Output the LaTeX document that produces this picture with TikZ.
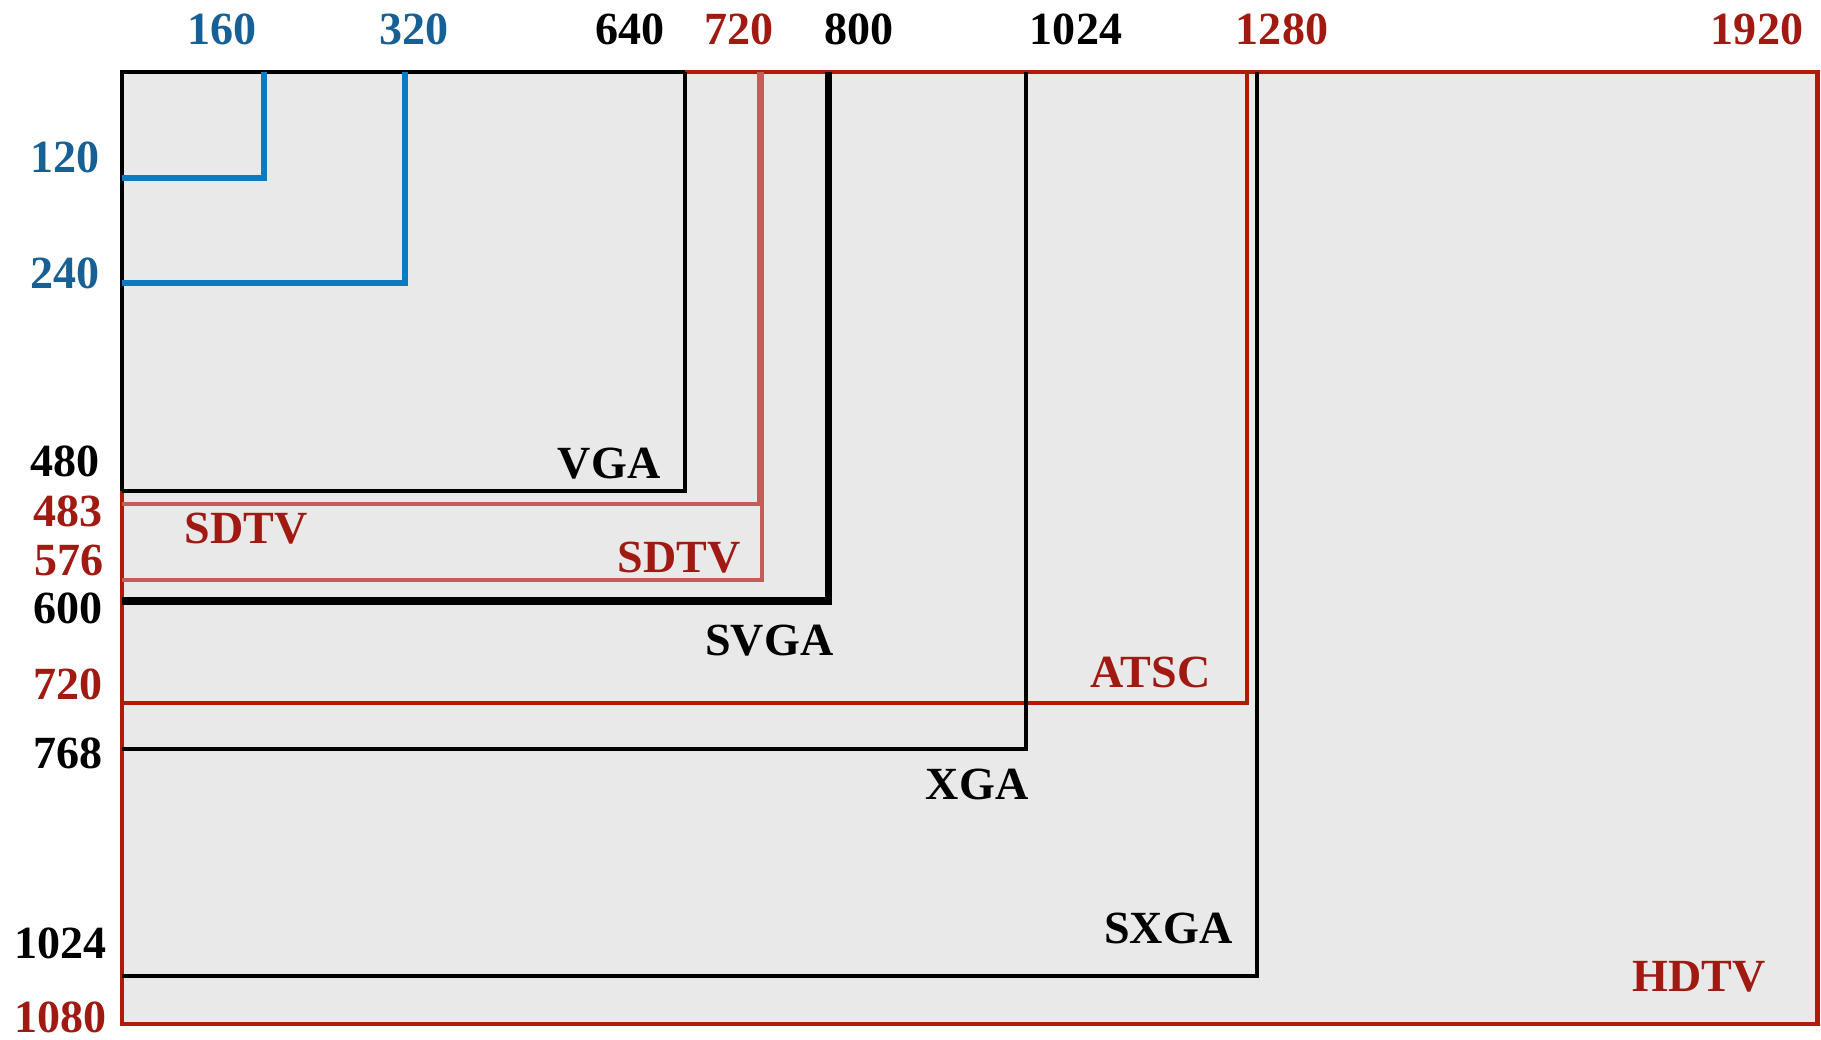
\documentclass[tikz,border=0pt]{standalone}
\usepackage{fontspec}
\setmainfont{Liberation Serif}
\definecolor{hdred}{RGB}{178,26,8}
\definecolor{txtred}{RGB}{160,26,18}
\definecolor{sdpink}{RGB}{200,90,88}
\definecolor{lnblue}{RGB}{10,123,192}
\definecolor{txtblue}{RGB}{22,96,150}
\definecolor{bggray}{RGB}{233,233,233}
\begin{document}
\begin{tikzpicture}[x=0.01cm,y=-0.01cm,
  lbl/.style={inner sep=0pt, font=\fontsize{13.1}{15}\selectfont\bfseries},
  toplbl/.style={lbl, anchor=base},
  leftlbl/.style={lbl, anchor=base east},
  inlbl/.style={lbl, anchor=base east},
  redl/.style={draw=hdred, line width=1.3pt},
  atscl/.style={draw=hdred, line width=1.25pt},
  pinkl/.style={draw=sdpink, line width=0.95pt},
  blackl/.style={draw=black, line width=1.1pt},
  thickbl/.style={draw=black, line width=2pt},
  bluel/.style={draw=lnblue, line width=1.65pt}]
\useasboundingbox (0,0) rectangle (1821,1039);
% frame (HDTV)
\coordinate (o) at (122,72);
\coordinate (hd) at (1817.5,1024);
\filldraw[redl, fill=bggray] (o) rectangle (hd);
% inner formats: right and bottom edges
\draw[pinkl] (122,504) -| (759,72);
\draw[pinkl] (122,580) -| (762,72);
\draw[atscl] (122,703) -| (1247,72);
\draw[blackl] (122,749) -| (1026,72);
\draw[blackl] (122,976) -| (1257,72);
\draw[thickbl] (122,601) -| (828.5,72);
\draw[blackl] (122,491) -| (685,72);
\draw[blackl] (122,491) -- (o) -- (685,72);
\draw[bluel] (122,178) -| (264,72);
\draw[bluel] (122,283) -| (405,72);
% top labels
\node[toplbl, text=txtblue] (t160) at (222,44) {160};
\node[toplbl, text=txtblue] (t320) at (414,44) {320};
\node[toplbl] (t640) at (630,44) {640};
\node[toplbl, text=txtred] (t720) at (739,44) {720};
\node[toplbl] (t800) at (859,44) {800};
\node[toplbl] (t1024) at (1076,44) {1024};
\node[toplbl, text=txtred] (t1280) at (1282,44) {1280};
\node[toplbl, text=txtred] (t1920) at (1757,44) {1920};
% left labels
\node[leftlbl, text=txtblue] (l120) at (100,172) {120};
\node[leftlbl, text=txtblue] (l240) at (100,288) {240};
\node[leftlbl] (l480) at (100,476) {480};
\node[leftlbl, text=txtred] (l483) at (103,526) {483};
\node[leftlbl, text=txtred] (l576) at (104,575) {576};
\node[leftlbl] (l600) at (103,623) {600};
\node[leftlbl, text=txtred] (l720) at (103,699) {720};
\node[leftlbl] (l768) at (103,768) {768};
\node[leftlbl] (l1024) at (107,958) {1024};
\node[leftlbl, text=txtred] (l1080) at (107,1032) {1080};
% format names
\node[inlbl] (vga) at (661,478) {VGA};
\node[lbl, anchor=base west, text=txtred] (sdtv1) at (184,543) {SDTV};
\node[inlbl, text=txtred] (sdtv2) at (741,572) {SDTV};
\node[inlbl] (svga) at (834,655) {SVGA};
\node[inlbl, text=txtred] (atsc) at (1211,687) {ATSC};
\node[inlbl] (xga) at (1029,799) {XGA};
\node[inlbl] (sxga) at (1233,943) {SXGA};
\node[inlbl, text=txtred] (hdtv) at (1766,991) {HDTV};
\end{tikzpicture}
\end{document}
